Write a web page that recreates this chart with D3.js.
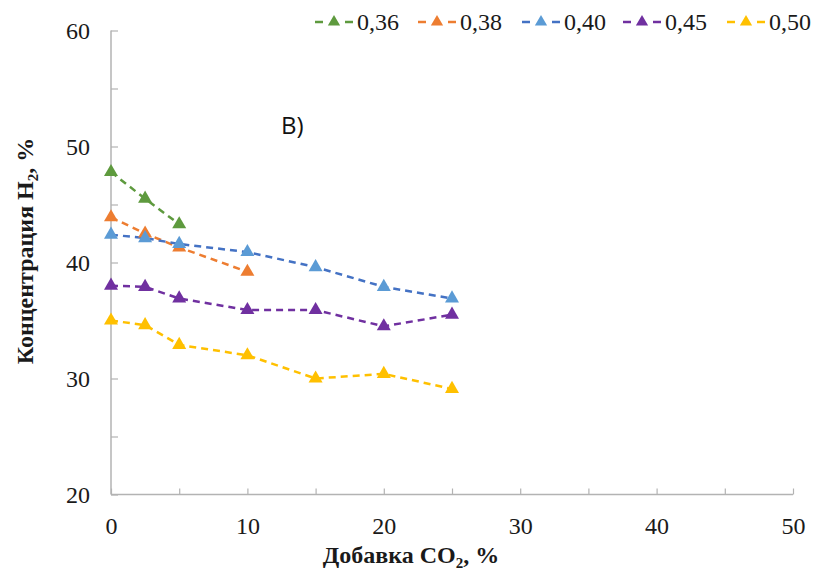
<!DOCTYPE html>
<html>
<head>
<meta charset="utf-8">
<script src="https://cdn.jsdelivr.net/npm/d3@7"></script>
<style>
  body { margin: 0; background: #fff; }
  svg { display: block; }
</style>
</head>
<body>
<svg></svg>
<script>
const w = 819;
const h = 574;
const margin = { left: 111, right: 26, top: 30.5, bottom: 79.5 };

// CO2 addition, %
const co2 = [0, 2.5, 5, 10, 15, 20, 25];

const seriesNames = ['0,36', '0,38', '0,40', '0,45', '0,50'];
const v036 = [47.8, 45.5, 43.3];
const v038 = [43.9, 42.5, 41.3, 39.2];
const v040 = [42.4, 42.1, 41.6, 40.9, 39.6, 37.9, 36.9];
const v045 = [38.0, 37.9, 36.9, 35.9, 35.9, 34.5, 35.5];
const v050 = [35.0, 34.6, 32.9, 32.0, 30.0, 30.4, 29.1];

const markerColors = ['#5E9A3E', '#ED7D31', '#5B9BD5', '#7030A0', '#FFC000'];
const lineColors = ['#5E9A3E', '#ED7D31', '#4472C4', '#7030A0', '#FFC000'];

const xTicks = [0, 5, 10, 15, 20, 25, 30, 35, 40, 45, 50];
const yTicks = [20, 25, 30, 35, 40, 45, 50, 55, 60];

const series = [v036, v038, v040, v045, v050].map((vals, i) => ({
	name: seriesNames[i],
	points: vals.map((v, j) => ({ x: co2[j], y: v })),
	marker: markerColors[i],
	line: lineColors[i],
}));

let canvas = d3.select('svg').attr('width', w).attr('height', h);

let xScale = d3.scaleLinear().domain([0, 50]).range([margin.left, w - margin.right]);
let yScale = d3.scaleLinear().domain([20, 60]).range([h - margin.bottom, margin.top]);

const axisColor = '#B3B3B3';
const serif = "'Liberation Serif', 'Times New Roman', serif";

// axes
let xAxis = d3
	.axisBottom(xScale)
	.tickValues(xTicks)
	.tickSize(-6)
	.tickPadding(22)
	.tickFormat((d) => (d % 10 === 0 ? d : ''));
let yAxis = d3
	.axisLeft(yScale)
	.tickValues(yTicks)
	.tickSize(-7)
	.tickPadding(21)
	.tickFormat((d) => (d % 10 === 0 ? d : ''));

const gx = canvas.append('g').attr('transform', `translate(0, ${h - margin.bottom})`).call(xAxis);
const gy = canvas.append('g').attr('transform', `translate(${margin.left}, 0)`).call(yAxis);

[gx, gy].forEach((g) => {
	g.select('.domain').attr('stroke', axisColor).attr('stroke-width', 1.5);
	g.selectAll('.tick line').attr('stroke', axisColor).attr('stroke-width', 1.2);
	g.selectAll('.tick text').attr('fill', '#1a1a1a').attr('font-family', serif).attr('font-size', 24);
});
// remove outer tick caps that d3 draws on the domain path
gx.select('.domain').attr('d', `M${xScale(0)},0H${xScale(50)}`);
gy.select('.domain').attr('d', `M0,${yScale(20)}V${yScale(60)}`);

// axis titles
const xt = canvas
	.append('text')
	.attr('x', 411)
	.attr('y', 563)
	.attr('text-anchor', 'middle')
	.attr('font-family', serif)
	.attr('font-weight', 'bold')
	.attr('font-size', 24)
	.attr('fill', '#1a1a1a');
xt.append('tspan').text('Добавка CO');
xt.append('tspan').attr('font-size', 15).attr('dy', 5).text('2');
xt.append('tspan').attr('dy', -5).text(', %');

const yt = canvas
	.append('text')
	.attr('transform', 'translate(33, 251) rotate(-90)')
	.attr('text-anchor', 'middle')
	.attr('font-family', serif)
	.attr('font-weight', 'bold')
	.attr('font-size', 24)
	.attr('fill', '#1a1a1a');
yt.append('tspan').text('Концентрация H');
yt.append('tspan').attr('font-size', 15).attr('dy', 5).text('2');
yt.append('tspan').attr('dy', -5).text(', %');

// panel label
canvas
	.append('text')
	.attr('x', 281)
	.attr('y', 134)
	.attr('font-family', "'Open Sans', 'DejaVu Sans', sans-serif")
	.attr('font-size', 24)
	.attr('fill', '#111')
	.text('В)');

// lines and markers
const line = d3
	.line()
	.x((d) => xScale(d.x))
	.y((d) => yScale(d.y));

const tri = d3.symbol().type(d3.symbolTriangle).size(85);

series.forEach((s) => {
	canvas
		.append('path')
		.attr('d', line(s.points))
		.attr('fill', 'none')
		.attr('stroke', s.line)
		.attr('stroke-width', 2.5)
		.attr('stroke-dasharray', '7,5');
});
series.forEach((s) => {
	canvas
		.append('g')
		.selectAll('path')
		.data(s.points)
		.enter()
		.append('path')
		.attr('d', tri)
		.attr('transform', (d) => `translate(${xScale(d.x)}, ${yScale(d.y)})`)
		.attr('fill', s.marker);
});

// legend
const legendX = [315, 418, 522, 623, 727];
const legend = canvas.append('g');
series.forEach((s, i) => {
	const g = legend.append('g').attr('transform', `translate(${legendX[i]}, 22)`);
	g.append('line').attr('x1', 0).attr('x2', 8).attr('stroke', s.line).attr('stroke-width', 2.5);
	g.append('line').attr('x1', 30).attr('x2', 38).attr('stroke', s.line).attr('stroke-width', 2.5);
	g.append('path').attr('d', d3.symbol().type(d3.symbolTriangle).size(65)()).attr('transform', 'translate(19, 0)').attr('fill', s.marker);
	g.append('text')
		.attr('x', 42)
		.attr('y', 8)
		.attr('font-family', serif)
		.attr('font-size', 24)
		.attr('fill', '#1a1a1a')
		.text(s.name);
});
</script>
</body>
</html>
